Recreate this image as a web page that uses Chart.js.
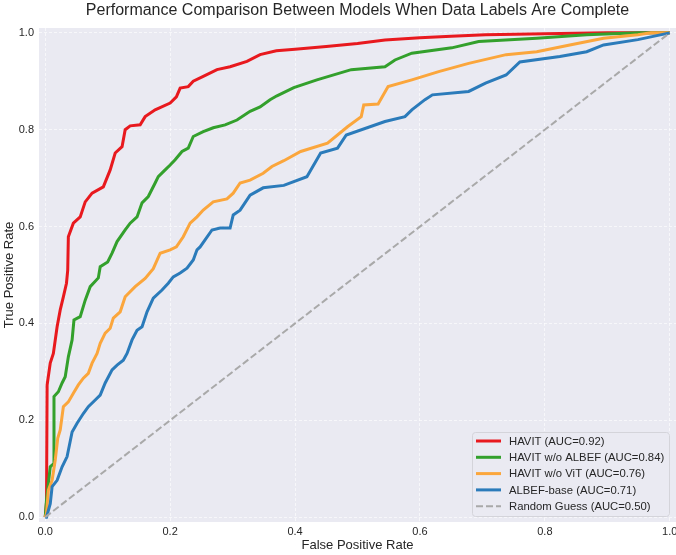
<!DOCTYPE html>
<html>
<head>
<meta charset="utf-8">
<script src="https://cdn.jsdelivr.net/npm/chart.js@4.4.1/dist/chart.umd.min.js"></script>
<style>
  html, body { margin: 0; padding: 0; background: #fff; }
  #wrap { width: 676px; height: 555px; }
</style>
</head>
<body>
<div id="wrap"><canvas id="rocChart"></canvas></div>
<script>
// ROC points
const havitFpr = [0, 0.002, 0.003, 0.008, 0.013, 0.019, 0.024, 0.029, 0.034, 0.036, 0.037, 0.045, 0.056, 0.064, 0.075, 0.093, 0.104, 0.112, 0.123, 0.128, 0.136, 0.152, 0.16, 0.176, 0.2, 0.21, 0.216, 0.229, 0.237, 0.253, 0.275, 0.296, 0.323, 0.344, 0.37, 0.40, 0.45, 0.5, 0.544, 0.6, 0.65, 0.705, 0.8, 0.9, 1.0];
const havitTpr = [0, 0.03, 0.273, 0.318, 0.338, 0.393, 0.428, 0.455, 0.483, 0.51, 0.579, 0.607, 0.62, 0.651, 0.669, 0.682, 0.717, 0.752, 0.765, 0.80, 0.808, 0.81, 0.827, 0.841, 0.855, 0.868, 0.886, 0.889, 0.9, 0.91, 0.924, 0.93, 0.941, 0.955, 0.963, 0.966, 0.972, 0.978, 0.985, 0.99, 0.993, 0.996, 0.998, 1.0, 1.0];

const noAlbefFpr = [0, 0.002, 0.008, 0.013, 0.014, 0.021, 0.027, 0.032, 0.037, 0.043, 0.046, 0.056, 0.064, 0.072, 0.085, 0.088, 0.1, 0.107, 0.115, 0.128, 0.136, 0.147, 0.155, 0.165, 0.176, 0.181, 0.192, 0.2, 0.208, 0.219, 0.229, 0.237, 0.253, 0.269, 0.288, 0.307, 0.328, 0.344, 0.36, 0.371, 0.398, 0.435, 0.49, 0.544, 0.56, 0.587, 0.651, 0.694, 0.787, 0.867, 0.95, 1.0];
const noAlbefTpr = [0, 0.035, 0.104, 0.11, 0.249, 0.259, 0.277, 0.29, 0.331, 0.366, 0.407, 0.414, 0.448, 0.476, 0.494, 0.517, 0.527, 0.545, 0.569, 0.593, 0.607, 0.62, 0.649, 0.662, 0.69, 0.703, 0.717, 0.727, 0.738, 0.755, 0.762, 0.786, 0.796, 0.804, 0.81, 0.82, 0.838, 0.847, 0.862, 0.87, 0.887, 0.903, 0.924, 0.93, 0.944, 0.958, 0.969, 0.982, 0.989, 0.996, 1.0, 1.0];

const noVitFpr = [0, 0.002, 0.005, 0.011, 0.016, 0.02, 0.024, 0.029, 0.037, 0.045, 0.053, 0.061, 0.069, 0.075, 0.083, 0.088, 0.096, 0.104, 0.109, 0.12, 0.128, 0.144, 0.16, 0.173, 0.184, 0.2, 0.21, 0.221, 0.232, 0.243, 0.253, 0.269, 0.291, 0.301, 0.312, 0.328, 0.349, 0.363, 0.382, 0.409, 0.452, 0.484, 0.506, 0.51, 0.533, 0.549, 0.587, 0.63, 0.678, 0.738, 0.787, 0.84, 0.894, 0.949, 0.97, 1.0];
const noVitTpr = [0, 0.008, 0.056, 0.076, 0.118, 0.163, 0.18, 0.228, 0.238, 0.256, 0.273, 0.287, 0.297, 0.318, 0.338, 0.359, 0.38, 0.39, 0.411, 0.424, 0.455, 0.476, 0.493, 0.513, 0.545, 0.552, 0.558, 0.579, 0.607, 0.62, 0.634, 0.651, 0.657, 0.669, 0.69, 0.696, 0.71, 0.724, 0.736, 0.755, 0.772, 0.806, 0.827, 0.851, 0.853, 0.889, 0.903, 0.92, 0.937, 0.955, 0.961, 0.975, 0.989, 0.996, 1.0, 1.0];

const albefFpr = [0, 0.002, 0.008, 0.011, 0.019, 0.027, 0.035, 0.043, 0.051, 0.061, 0.069, 0.08, 0.088, 0.096, 0.107, 0.115, 0.125, 0.131, 0.139, 0.147, 0.155, 0.163, 0.173, 0.187, 0.197, 0.205, 0.216, 0.227, 0.237, 0.243, 0.248, 0.267, 0.28, 0.296, 0.301, 0.312, 0.328, 0.349, 0.382, 0.419, 0.441, 0.468, 0.482, 0.544, 0.576, 0.587, 0.608, 0.62, 0.678, 0.705, 0.738, 0.76, 0.824, 0.867, 0.894, 0.949, 1.0];
const albefTpr = [0, 0.0, 0.028, 0.063, 0.076, 0.104, 0.125, 0.176, 0.194, 0.214, 0.228, 0.242, 0.252, 0.277, 0.304, 0.314, 0.324, 0.338, 0.366, 0.386, 0.393, 0.424, 0.452, 0.469, 0.483, 0.496, 0.504, 0.514, 0.531, 0.552, 0.558, 0.593, 0.597, 0.597, 0.624, 0.634, 0.665, 0.68, 0.685, 0.703, 0.752, 0.762, 0.789, 0.817, 0.827, 0.841, 0.862, 0.872, 0.879, 0.896, 0.913, 0.94, 0.951, 0.961, 0.975, 0.986, 1.0];

const randomFpr = [0, 1];
const randomTpr = [0, 1];

const modelLabels = ['HAVIT (AUC=0.92)', 'HAVIT w/o ALBEF (AUC=0.84)', 'HAVIT w/o ViT (AUC=0.76)', 'ALBEF-base (AUC=0.71)', 'Random Guess (AUC=0.50)'];
const tickValues = [0, 0.2, 0.4, 0.6, 0.8, 1.0];
const chartTitle = 'Performance Comparison Between Models When Data Labels Are Complete';

const FONT = "'Liberation Sans', Arial, sans-serif";
const TEXT = '#262626';

function toPoints(xs, ys) {
  return xs.map((x, i) => ({ x: x, y: ys[i] }));
}

function curve(label, xs, ys, color, order) {
  return {
    label: label,
    data: toPoints(xs, ys),
    borderColor: color,
    backgroundColor: color,
    borderWidth: 3,
    pointRadius: 0,
    tension: 0,
    fill: false,
    order: order
  };
}

const datasets = [
  curve(modelLabels[0], havitFpr, havitTpr, '#e8191e', 5),
  curve(modelLabels[1], noAlbefFpr, noAlbefTpr, '#33a02c', 4),
  curve(modelLabels[2], noVitFpr, noVitTpr, '#fba63c', 3),
  curve(modelLabels[3], albefFpr, albefTpr, '#2b7bba', 2),
  {
    label: modelLabels[4],
    data: toPoints(randomFpr, randomTpr),
    borderColor: '#a9a9a9',
    backgroundColor: '#a9a9a9',
    borderWidth: 2,
    borderDash: [7, 3],
    pointRadius: 0,
    fill: false,
    order: 1
  }
];

// plot background like seaborn darkgrid, title centred over the axes
const bgPlugin = {
  id: 'plotBg',
  beforeDraw(chart) {
    const { ctx, chartArea: a } = chart;
    ctx.save();
    ctx.fillStyle = '#eaeaf2';
    ctx.fillRect(a.left, a.top, a.right - a.left, a.bottom - a.top);
    ctx.font = '16px ' + FONT;
    ctx.fillStyle = TEXT;
    ctx.textAlign = 'center';
    ctx.textBaseline = 'middle';
    ctx.fillText(chartTitle, (a.left + a.right) / 2, 11);
    ctx.restore();
  }
};

// legend drawn inside the plot, lower right
const legendPlugin = {
  id: 'innerLegend',
  afterDraw(chart) {
    const { ctx, chartArea: a } = chart;
    const w = 197, h = 84;
    const x = a.right - 7 - w, y = a.bottom - 6 - h;
    ctx.save();
    ctx.beginPath();
    ctx.roundRect(x + 0.5, y + 0.5, w, h, 3);
    ctx.fillStyle = 'rgba(234,234,242,0.85)';
    ctx.fill();
    ctx.strokeStyle = '#d4d4da';
    ctx.lineWidth = 1;
    ctx.stroke();
    ctx.font = '11.3px ' + FONT;
    ctx.textBaseline = 'middle';
    chart.data.datasets.forEach((ds, i) => {
      const cy = y + 9 + i * 16.3;
      ctx.beginPath();
      ctx.setLineDash(ds.borderDash || []);
      ctx.strokeStyle = ds.borderColor;
      ctx.lineWidth = ds.borderWidth;
      ctx.moveTo(x + 4, cy);
      ctx.lineTo(x + 29, cy);
      ctx.stroke();
      ctx.setLineDash([]);
      ctx.fillStyle = TEXT;
      ctx.fillText(ds.label, x + 37, cy + 0.5);
    });
    ctx.restore();
  }
};

function fixedTicks(scale) {
  scale.ticks = tickValues.map(v => ({ value: v }));
}

const ctx = document.getElementById('rocChart').getContext('2d');

const rocChart = new Chart(ctx, {
  type: 'line',
  data: { datasets: datasets },
  options: {
    responsive: true,
    maintainAspectRatio: false,
    animation: false,
    layout: { padding: { left: 0, right: 0, top: 28, bottom: 0 } },
    plugins: {
      legend: { display: false },
      tooltip: { enabled: false },
      title: { display: false }
    },
    scales: {
      x: {
        type: 'linear',
        min: -0.01,
        max: 1.01,
        afterBuildTicks: fixedTicks,
        afterFit(scale) {
          scale.height = 33;
          scale.paddingLeft = 0;
          scale.paddingRight = 0;
        },
        ticks: {
          color: TEXT,
          font: { family: FONT, size: 11 },
          padding: 3,
          maxRotation: 0,
          callback: v => v.toFixed(1)
        },
        grid: { color: 'rgba(255,255,255,0.6)', lineWidth: 1, drawTicks: false },
        border: { display: false, dash: [3, 2] },
        title: {
          display: true,
          text: 'False Positive Rate',
          color: TEXT,
          font: { family: FONT, size: 13 },
          padding: { top: 0, bottom: 2 }
        }
      },
      y: {
        type: 'linear',
        min: -0.01,
        max: 1.01,
        afterBuildTicks: fixedTicks,
        afterFit(scale) {
          scale.width = 39;
          scale.paddingTop = 0;
          scale.paddingBottom = 0;
        },
        ticks: {
          color: TEXT,
          font: { family: FONT, size: 11 },
          padding: 5,
          callback: v => v.toFixed(1)
        },
        grid: { color: 'rgba(255,255,255,0.6)', lineWidth: 1, drawTicks: false },
        border: { display: false, dash: [3, 2] },
        title: {
          display: true,
          text: 'True Positive Rate',
          color: TEXT,
          font: { family: FONT, size: 13 },
          padding: { top: 2, bottom: 0 }
        }
      }
    }
  },
  plugins: [bgPlugin, legendPlugin]
});
</script>
</body>
</html>
